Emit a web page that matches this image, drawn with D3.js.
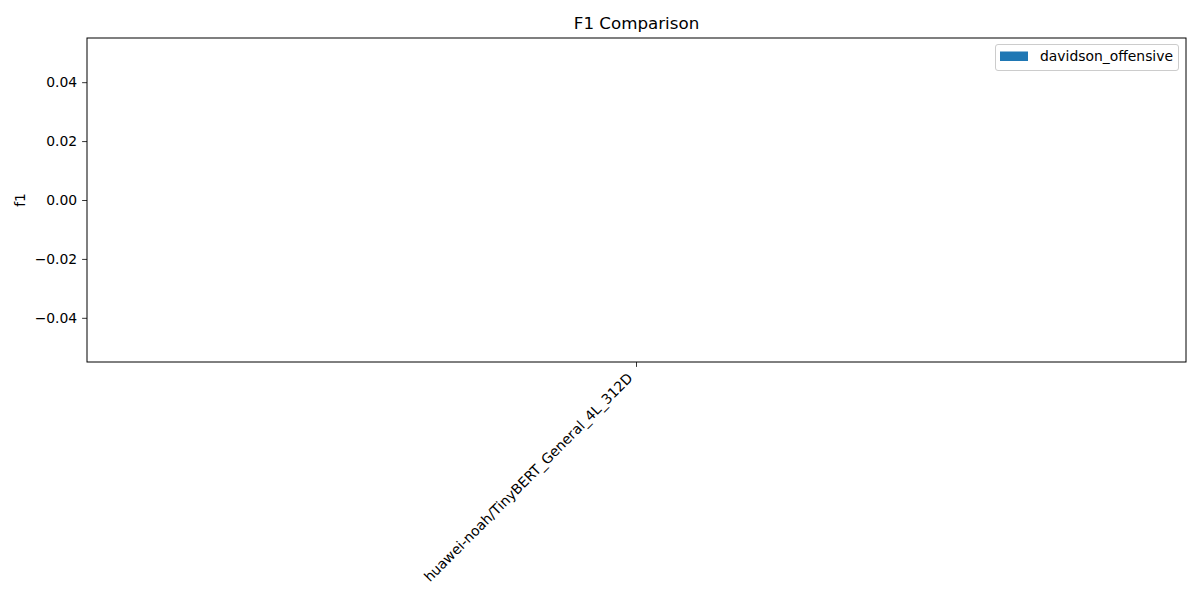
<!DOCTYPE html>
<html><head><meta charset="utf-8">
<script src="https://cdn.jsdelivr.net/npm/d3@7"></script>
<style>body{margin:0;background:#fff}svg{display:block}text{font-family:"DejaVu Sans",sans-serif;fill:#000}</style>
</head><body>
<svg id="c" width="1200" height="600"></svg>
<script>
const categories = ["huawei-noah/TinyBERT_General_4L_312D"];
const seriesNames = ["davidson_offensive"];
const values = [0];
const yTicks = [-0.04, -0.02, 0.00, 0.02, 0.04];

const svg = d3.select("#c");
const m = {l:87, r:1186, t:38, b:362};
const x = d3.scaleBand().domain(categories).range([m.l, m.r]).paddingInner(0.2).paddingOuter(0.1);
const y = d3.scaleLinear().domain([-0.055, 0.055]).range([m.b, m.t]);
const color = "#1f77b4";

// bars
svg.append("g").selectAll("rect").data(values).join("rect")
  .attr("x", (d,i)=>x(categories[i]) + x.bandwidth()*0.0)
  .attr("width", x.bandwidth())
  .attr("y", d=>Math.min(y(d), y(0)))
  .attr("height", d=>Math.abs(y(d)-y(0)))
  .attr("fill", color);

// y axis
const yAxis = svg.append("g").attr("transform", `translate(${m.l},0)`)
  .call(d3.axisLeft(y).tickValues(yTicks).tickSize(4.9).tickPadding(4.9)
    .tickFormat(d=>d3.format(".2f")(d).replace("-", "\u2212")));
yAxis.select(".domain").remove();
yAxis.selectAll("line").attr("stroke", "#000").attr("stroke-width", 0.8);
yAxis.selectAll("text").attr("font-size", "13.9px").attr("font-family", "DejaVu Sans");

// x axis
const xAxis = svg.append("g").attr("transform", `translate(0,${m.b})`)
  .call(d3.axisBottom(x).tickSize(4.9).tickFormat(""));
xAxis.select(".domain").remove();
xAxis.selectAll("line").attr("stroke", "#000").attr("stroke-width", 0.8);
svg.append("g").selectAll("text").data(categories).join("text")
  .attr("transform", d=>`translate(${x(d)+x.bandwidth()/2-3},${m.b+17}) rotate(-45)`)
  .attr("text-anchor", "end")
  .attr("font-size", "13.9px")
  .text(d=>d);

// frame
svg.append("rect").attr("x", m.l).attr("y", m.t).attr("width", m.r-m.l).attr("height", m.b-m.t)
  .attr("fill", "none").attr("stroke", "#000").attr("stroke-width", 1);

// title
svg.append("text").attr("x", (m.l+m.r)/2).attr("y", 29).attr("text-anchor", "middle")
  .attr("font-size", "16.7px").text("F1 Comparison");

// y label
svg.append("text").attr("transform", `translate(25,${(m.t+m.b)/2}) rotate(-90)`)
  .attr("text-anchor", "middle").attr("font-size", "13.9px").text("f1");

// legend
const lg = svg.append("g");
lg.append("rect").attr("x", 995.5).attr("y", 44.5).attr("width", 183).attr("height", 26)
  .attr("rx", 2.5).attr("fill", "#fff").attr("fill-opacity", 0.8).attr("stroke", "#ccc");
seriesNames.forEach((s,i)=>{
  lg.append("rect").attr("x", 1000).attr("y", 51.5 + i*20).attr("width", 28).attr("height", 9.5).attr("fill", color);
  lg.append("text").attr("x", 1040).attr("y", 61 + i*20).attr("font-size", "13.9px").text(s);
});
</script>
</body></html>
